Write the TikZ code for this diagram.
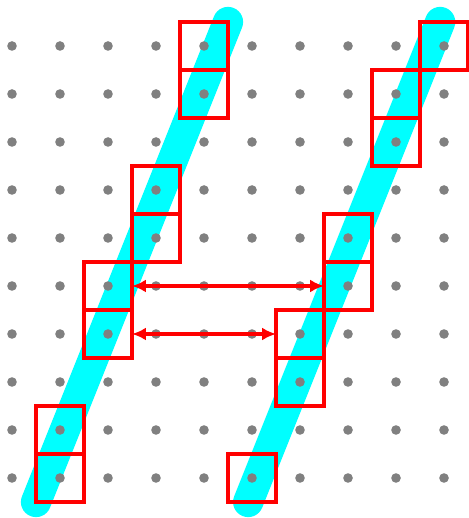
\documentclass[tikz,border=0pt]{standalone}
\usepackage{amsmath}
\usetikzlibrary{arrows.meta}

\definecolor{glyphcyan}{RGB}{0,255,255}
\definecolor{boxred}{RGB}{255,0,0}
\definecolor{dotgray}{RGB}{128,128,128}

\begin{document}
\begin{tikzpicture}[auto, x=1cm, y=1cm, node distance=1cm,
        cell/.style={rectangle, draw=boxred, line width=1.8pt, inner sep=0pt, outer sep=0pt, minimum size=1cm},
        stroke/.style={draw=glyphcyan, line width=0.63cm, line cap=round},
        paths/.style={{Latex[length=0.29cm,width=0.27cm]}-{Latex[length=0.29cm,width=0.27cm]}, draw=boxred, line width=1.8pt}
    ]
        \useasboundingbox (-0.25,-0.8333) rectangle (9.5,9.9583);

        % Strokes
        \coordinate (l-start) at (0.5,-0.5);
        \coordinate (l-end) at (4.5,9.5);
        \coordinate (r-start) at (4.92,-0.5);
        \coordinate (r-end) at (8.92,9.5);
        \draw[stroke] (l-start) -- (l-end);
        \draw[stroke] (r-start) -- (r-end);

        % Dot grid
        \foreach \i in {0,...,9}
            \foreach \j in {0,...,9}
                \fill[dotgray] (\i,\j) circle (0.1);

        % Nodes: left stroke
        \node[cell] (lb1) at (1,0) {};
        \node[cell, above of = lb1] (lb2) {};
        \node[cell] (lm1) at (2,3) {};
        \node[cell, above of = lm1] (lm2) {};
        \node[cell] (lu1) at (3,5) {};
        \node[cell, above of = lu1] (lu2) {};
        \node[cell] (lt1) at (4,8) {};
        \node[cell, above of = lt1] (lt2) {};

        % Nodes: right stroke
        \node[cell] (rb) at (5,0) {};
        \node[cell] (rm1) at (6,2) {};
        \node[cell, above of = rm1] (rm2) {};
        \node[cell] (ru1) at (7,4) {};
        \node[cell, above of = ru1] (ru2) {};
        \node[cell] (rt1) at (8,7) {};
        \node[cell, above of = rt1] (rt2) {};
        \node[cell] (rc) at (9,9) {};

        % Paths
        \draw[paths] (lm2.east) -- (ru1.west);
        \draw[paths] (lm1.east) -- (rm2.west);

    \end{tikzpicture}
\end{document}
